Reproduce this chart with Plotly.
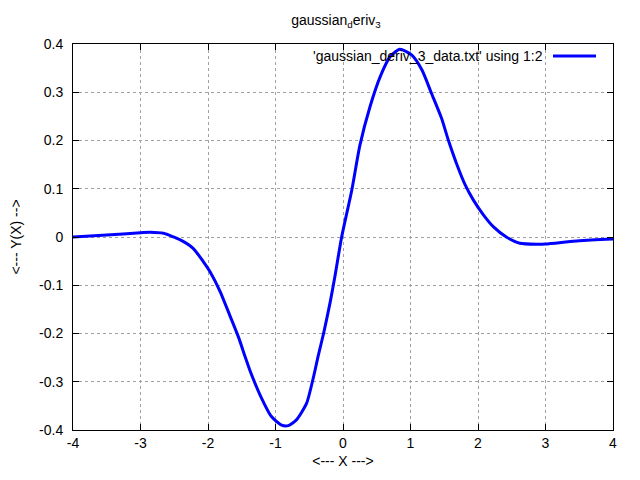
import plotly.graph_objects as go

x_vals = [-4.0, -3.5, -3.0, -2.86, -2.66, -2.41, -2.22, -2.07, -1.97, -1.82, -1.67, -1.55, -1.45,
          -1.38, -1.23, -1.06, -0.91, -0.81, -0.69, -0.54, -0.44, -0.37, -0.28, -0.19, -0.12,
          -0.02, 0.13, 0.25, 0.4, 0.55, 0.7, 0.84, 1.02, 1.17, 1.31, 1.46, 1.56, 1.68, 1.81, 1.93,
          2.08, 2.23, 2.42, 2.62, 2.87, 3.0, 3.5, 4.0]
y_vals = [0.0, 0.004, 0.009, 0.0097, 0.0076, -0.006, -0.0235, -0.051, -0.072, -0.113, -0.165,
          -0.207, -0.248, -0.276, -0.327, -0.372, -0.39, -0.391, -0.379, -0.345, -0.292, -0.248,
          -0.195, -0.135, -0.082, 0.0, 0.097, 0.19, 0.27, 0.332, 0.374, 0.389, 0.377, 0.346, 0.298,
          0.246, 0.201, 0.153, 0.108, 0.077, 0.046, 0.021, 0.0, -0.013, -0.015, -0.0145, -0.0076,
          -0.004]

x_ticks = [-4, -3, -2, -1, 0, 1, 2, 3, 4]
x_tick_text = ["-4", "-3", "-2", "-1", "0", "1", "2", "3", "4"]
y_ticks = [-0.4, -0.3, -0.2, -0.1, 0, 0.1, 0.2, 0.3, 0.4]
y_tick_text = ["-0.4", "-0.3", "-0.2", "-0.1", "0", "0.1", "0.2", "0.3", "0.4"]

series_name = "'gaussian_deriv_3_data.txt' using 1:2"
FONT = "Liberation Sans, Arial, sans-serif"

fig = go.Figure()
fig.add_trace(go.Scatter(x=x_vals, y=y_vals, mode="lines", name=series_name,
                         line=dict(color="#0000ff", width=3, shape="spline", smoothing=0.6),
                         showlegend=False))

axis_common = dict(
    showgrid=True, gridcolor="#a0a0a0", griddash="dot", gridwidth=1,
    zeroline=False, showline=True, linecolor="black", linewidth=1, mirror="ticks",
    ticks="inside", ticklen=6, tickcolor="black", tickwidth=1,
    tickfont=dict(family=FONT, size=14, color="black"),
)

fig.update_layout(
    width=640, height=480,
    margin=dict(l=73, r=27, t=44, b=50),
    paper_bgcolor="white", plot_bgcolor="white",
    font=dict(family=FONT, size=14, color="black"),
    title=dict(text="gaussian<sub>d</sub>eriv<sub>3</sub>", x=0.525, xanchor="center",
               y=0.958, yanchor="middle", font=dict(family=FONT, size=14, color="black")),
    xaxis=dict(range=[-4, 4], tickvals=x_ticks, ticktext=x_tick_text,
               title=dict(text="&lt;--- X ---&gt;", standoff=6, font=dict(family=FONT, size=14)),
               **axis_common),
    yaxis=dict(range=[-0.4, 0.4], tickvals=y_ticks, ticktext=y_tick_text, ticklabelstandoff=6,
               title=dict(text="&lt;--- Y(X) --&gt;", standoff=14, font=dict(family=FONT, size=14)),
               **axis_common),
)

# gnuplot-style key: text then line sample, top right inside the plot
fig.add_annotation(x=(545 - 73) / 540, y=(430 - 56) / 386, xref="paper", yref="paper",
                   text=series_name, showarrow=False, xanchor="right", yanchor="middle",
                   font=dict(family=FONT, size=14, color="black"))
fig.add_shape(type="line", xref="paper", yref="paper",
              x0=(553 - 73) / 540, x1=(596 - 73) / 540,
              y0=(430 - 56) / 386, y1=(430 - 56) / 386,
              line=dict(color="#0000ff", width=3))

fig.write_html("out.html", config={"displayModeBar": False},
               post_script="document.body.style.margin='0';")
